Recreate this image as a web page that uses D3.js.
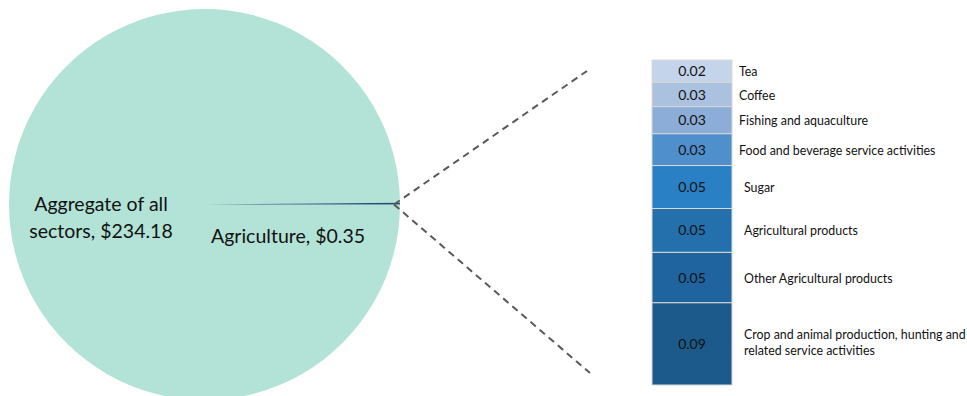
<!DOCTYPE html>
<html>
<head>
<meta charset="utf-8">
<script src="https://cdn.jsdelivr.net/npm/d3@7"></script>
<style>
  html, body { margin: 0; padding: 0; background: #fff; }
  svg { display: block; font-family: Lato, "Open Sans", sans-serif; }
</style>
</head>
<body>
<svg id="chart" width="967" height="396"></svg>
<script>
// Main pie: all sectors vs agriculture (US$ bn)
const pieLabels = ["Aggregate of all sectors", "Agriculture"];
const pieValues = [234.18, 0.35];

// Breakdown of agriculture, stacked from top to bottom
const subCategories = [
  "Tea",
  "Coffee",
  "Fishing and aquaculture",
  "Food and beverage service activities",
  "Sugar",
  "Agricultural products",
  "Other Agricultural products",
  "Crop and animal production, hunting and related service activities"
];
const subValues = [0.024, 0.026, 0.029, 0.034, 0.046, 0.047, 0.054, 0.088];
const subColors = ["#c4d4ea", "#aac1e0", "#8badd8", "#4f8fcc", "#2980c4", "#2470ad", "#20649f", "#1b5a8a"];

const svg = d3.select("#chart");

// ---- pie ----
const cx = 204.5, cy = 204.5, r = 195.5;
const aggIdx = 0, agrIdx = 1;
const agrAngle = pieValues[agrIdx] / d3.sum(pieValues) * 2 * Math.PI;

// place the agriculture slice so it ends at 3 o'clock
const pie = d3.pie().sort(null).value(d => d)
  .startAngle(Math.PI / 2 - agrAngle)
  .endAngle(Math.PI / 2 - agrAngle + 2 * Math.PI);
const arcs = pie([pieValues[agrIdx], pieValues[aggIdx]]);
const arc = d3.arc().innerRadius(0).outerRadius(r);
const pieColors = ["#1f4e79", "#b2e3d6"];

const gPie = svg.append("g").attr("transform", `translate(${cx},${cy})`);
gPie.selectAll("path").data(arcs.slice().reverse()).join("path")
  .attr("d", arc)
  .attr("fill", (d, i) => i === 0 ? pieColors[1] : pieColors[0]);

// pie labels
const fmtMoney = v => "$" + d3.format(".2f")(v);
const aggText = svg.append("text")
  .attr("font-size", 19.5).attr("fill", "#111").attr("text-anchor", "middle");
aggText.append("tspan").attr("x", 101).attr("y", 211).text("Aggregate of all");
aggText.append("tspan").attr("x", 101).attr("y", 238).text("sectors, " + fmtMoney(pieValues[aggIdx]));

svg.append("text")
  .attr("x", 288).attr("y", 243)
  .attr("font-size", 19.5).attr("fill", "#111").attr("text-anchor", "middle")
  .text(pieLabels[agrIdx] + ", " + fmtMoney(pieValues[agrIdx]));

// ---- stacked bar ----
const barX = 652, barW = 80, barTop = 60, barBottom = 385;
const y = d3.scaleLinear().domain([0, d3.sum(subValues)]).range([barTop, barBottom]);
const cum = d3.cumsum(subValues);
const segs = subValues.map((v, i) => ({
  name: subCategories[i], value: v, y0: i === 0 ? 0 : cum[i - 1], y1: cum[i], color: subColors[i]
}));

// connector lines from the slice to the bar
const tip = [cx + r - 6, cy];
const conn = svg.append("g").attr("stroke", "#595959").attr("stroke-width", 2)
  .attr("stroke-dasharray", "7,5").attr("fill", "none");
conn.append("line").attr("x1", tip[0]).attr("y1", tip[1]).attr("x2", 587).attr("y2", 71);
conn.append("line").attr("x1", tip[0]).attr("y1", tip[1]).attr("x2", 590).attr("y2", 373);

const gBar = svg.append("g");
gBar.selectAll("rect").data(segs).join("rect")
  .attr("x", barX).attr("width", barW)
  .attr("y", d => y(d.y0)).attr("height", d => y(d.y1) - y(d.y0))
  .attr("fill", d => d.color)
  .attr("stroke", "#d9d9d9").attr("stroke-width", 1);

const fmtVal = d3.format(".2f");
gBar.selectAll("text.val").data(segs).join("text")
  .attr("class", "val")
  .attr("x", barX + barW / 2)
  .attr("y", d => (y(d.y0) + y(d.y1)) / 2 + 5)
  .attr("text-anchor", "middle").attr("font-size", 14).attr("fill", "#111")
  .text(d => fmtVal(d.value));

// category labels
const labelX = [739, 739, 739, 739, 744, 744, 744, 744];
const labelLines = [
  ["Tea"], ["Coffee"], ["Fishing and aquaculture"], ["Food and beverage service activities"],
  ["Sugar"], ["Agricultural products"], ["Other Agricultural products"],
  ["Crop and animal production, hunting and", "related service activities"]
];
segs.forEach((d, i) => {
  const mid = (y(d.y0) + y(d.y1)) / 2;
  const lines = labelLines[i];
  const t = svg.append("text").attr("font-size", 12.4).attr("fill", "#111");
  lines.forEach((ln, j) => {
    t.append("tspan").attr("x", labelX[i])
      .attr("y", mid + 5 + (j - (lines.length - 1) / 2) * 16 - (lines.length > 1 ? 2 : 0))
      .text(ln);
  });
});
</script>
</body>
</html>
